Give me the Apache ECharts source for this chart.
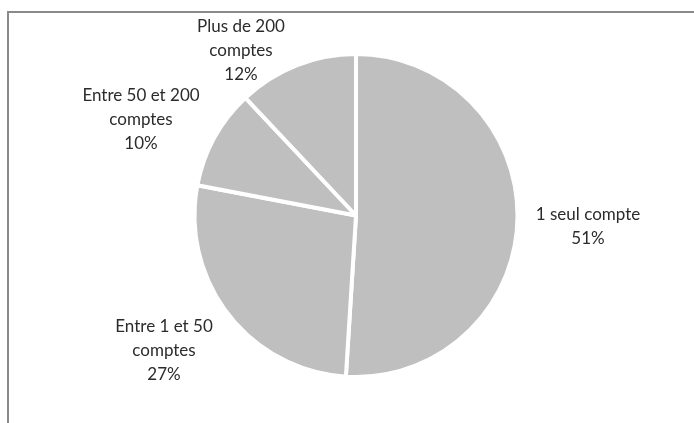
<!DOCTYPE html>
<html>
<head>
<meta charset="utf-8">
<script src="https://cdn.jsdelivr.net/npm/echarts@6/dist/echarts.min.js"></script>
<style>
	html, body { margin: 0; padding: 0; background: #fff; }
	#chart { width: 694px; height: 423px; }
</style>
</head>
<body>
<div id="chart"></div>
<script>
var categories = ['1 seul compte', 'Entre 1 et 50\ncomptes', 'Entre 50 et 200\ncomptes', 'Plus de 200\ncomptes'];
var values = [51, 27, 10, 12];

// centre des étiquettes (x, y) pour chaque part
var labelPos = [[588, 227], [164, 351], [141, 120], [241, 51]];

var seriesData = [];
categories.forEach(function (name, i) {
	seriesData.push({ name: name, value: values[i] });
});

var chart = echarts.init(document.getElementById('chart'));
chart.setOption({
	backgroundColor: '#fff',
	animation: false,
	graphic: [
		{
			type: 'polyline',
			shape: { points: [[694, 12], [8, 12], [8, 423]] },
			style: { stroke: '#8a8a8a', lineWidth: 2, fill: null },
			silent: true
		}
	],
	series: [
		{
			type: 'pie',
			center: [356, 215.5],
			radius: 161.5,
			startAngle: 90,
			clockwise: true,
			color: ['#bfbfbf'],
			itemStyle: {
				borderColor: '#ffffff',
				borderWidth: 4
			},
			emphasis: { disabled: true },
			label: {
				show: true,
				position: 'outside',
				formatter: function (p) {
					return p.name + '\n' + p.value + '%';
				},
				fontFamily: 'Lato',
				fontSize: 17,
				lineHeight: 24,
				color: '#2b2b2b',
				align: 'center'
			},
			labelLine: { show: false },
			labelLayout: function (p) {
				var pos = labelPos[p.dataIndex];
				return { x: pos[0], y: pos[1], align: 'center', verticalAlign: 'middle' };
			},
			data: seriesData
		}
	]
});
</script>
</body>
</html>
